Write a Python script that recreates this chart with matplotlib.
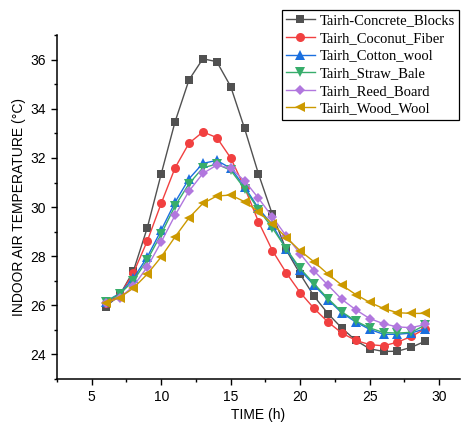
import numpy as np
import matplotlib
matplotlib.use('Agg')
import matplotlib.pyplot as plt
from matplotlib.ticker import MultipleLocator

# hours of the day
hours = list(range(6, 30))

# indoor air temperature (C)
concrete = [25.95, 26.4, 27.4, 29.16, 31.35, 33.48, 35.18, 36.04, 35.92, 34.91, 33.2, 31.35,
            29.7, 28.25, 27.27, 26.37, 25.66, 25.07, 24.57, 24.23, 24.12, 24.13, 24.29, 24.54]
coconut = [26.1, 26.4, 27.32, 28.62, 30.15, 31.6, 32.6, 33.06, 32.83, 32.0, 30.8, 29.4,
           28.23, 27.32, 26.52, 25.87, 25.32, 24.87, 24.57, 24.4, 24.35, 24.5, 24.73, 25.05]
cotton = [26.15, 26.48, 27.1, 27.97, 29.06, 30.2, 31.15, 31.78, 31.9, 31.58, 30.83, 29.95,
          29.27, 28.28, 27.43, 26.82, 26.23, 25.69, 25.32, 25.02, 24.82, 24.82, 24.87, 25.05]
straw = [26.15, 26.45, 27.0, 27.85, 28.9, 30.05, 30.95, 31.6, 31.75, 31.5, 30.75, 29.9,
         29.15, 28.3, 27.5, 26.88, 26.27, 25.73, 25.36, 25.08, 24.89, 24.87, 24.9, 25.2]
reed = [26.1, 26.3, 26.78, 27.56, 28.58, 29.67, 30.65, 31.37, 31.71, 31.58, 31.07, 30.36,
        29.6, 28.82, 28.1, 27.4, 26.82, 26.24, 25.82, 25.46, 25.25, 25.12, 25.09, 25.22]
wood = [26.1, 26.31, 26.7, 27.27, 27.97, 28.79, 29.56, 30.15, 30.45, 30.49, 30.22, 29.81,
        29.32, 28.76, 28.22, 27.77, 27.27, 26.82, 26.44, 26.12, 25.87, 25.7, 25.67, 25.67]

names = ['Tairh-Concrete_Blocks', 'Tairh_Coconut_Fiber', 'Tairh_Cotton_wool',
         'Tairh_Straw_Bale', 'Tairh_Reed_Board', 'Tairh_Wood_Wool']
series = [concrete, coconut, cotton, straw, reed, wood]
colors = ['#515151', '#F14040', '#1A6FDF', '#37AD6B', '#B177DE', '#CC9900']
markers = ['s', 'o', '^', 'v', 'D', '<']
msizes = [6, 6.5, 6.5, 6.5, 5.5, 7]

plt.rcParams['font.family'] = ['Liberation Sans', 'DejaVu Sans']

fig = plt.figure(figsize=(4.67, 4.29), dpi=100)
ax = fig.add_axes([0.122, 0.1166, 0.863, 0.8014])

for y, name, c, m, ms in zip(series, names, colors, markers, msizes):
    ax.plot(hours, y, color=c, marker=m, markersize=ms, linewidth=1.0,
            markeredgewidth=0, label=name)

ax.set_xlim(2.5, 31.5)
ax.set_ylim(23, 37)
ax.xaxis.set_major_locator(MultipleLocator(5))
ax.xaxis.set_minor_locator(MultipleLocator(2.5))
ax.yaxis.set_major_locator(MultipleLocator(2))
ax.yaxis.set_minor_locator(MultipleLocator(1))
ax.spines['top'].set_visible(False)
ax.spines['right'].set_visible(False)
for s in ['left', 'bottom']:
    ax.spines[s].set_linewidth(1.1)
ax.tick_params(which='both', direction='out', labelsize=10, width=1.0)
ax.tick_params(which='major', length=4.5)
ax.tick_params(which='minor', length=2.2)

ax.set_xlabel('TIME (h)', fontsize=10, labelpad=3)
ax.set_ylabel('INDOOR AIR TEMPERATURE (°C)', fontsize=10, labelpad=3)

leg = ax.legend(loc='upper right', bbox_to_anchor=(0.983, 0.977), bbox_transform=fig.transFigure,
                prop={'family': 'Liberation Serif', 'size': 10.5}, fancybox=False,
                edgecolor='black', framealpha=1, borderpad=0.3, labelspacing=0.3,
                handlelength=2.0, handletextpad=0.3, borderaxespad=0)
leg.get_frame().set_linewidth(0.9)

fig.savefig('out.png', dpi=100)
